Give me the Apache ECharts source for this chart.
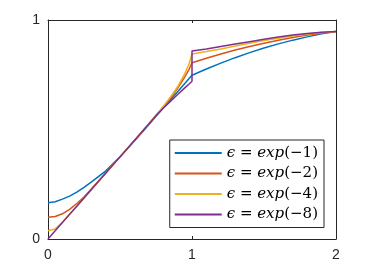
<!DOCTYPE html>
<html>
<head>
<meta charset="utf-8">
<script src="https://cdn.jsdelivr.net/npm/echarts@6/dist/echarts.min.js"></script>
<style>
  html, body { margin: 0; padding: 0; background: #fff; }
  #main { width: 372px; height: 270px; }
</style>
</head>
<body>
<div id="main"></div>
<script>
// x grid shared by every curve (x = 1 appears twice: left / right limit)
var xs = [0, 0.05, 0.1, 0.15, 0.2, 0.25, 0.3, 0.4, 0.5, 0.6, 0.7, 0.75, 0.8, 0.85, 0.9, 0.95, 0.98, 1,
          1, 1.1, 1.2, 1.3, 1.4, 1.5, 1.6, 1.7, 1.8, 1.9, 2];

var names = ['ϵ = exp(−1)', 'ϵ = exp(−2)', 'ϵ = exp(−4)', 'ϵ = exp(−8)'];
var colors = ['#0072BD', '#D95319', '#EDB120', '#7E2F8E'];

var yEps1 = [0.166, 0.170, 0.182, 0.196, 0.214, 0.236, 0.26, 0.31, 0.375, 0.448, 0.522, 0.56, 0.598, 0.635, 0.672, 0.71, 0.733, 0.748,
             0.748, 0.776, 0.803, 0.828, 0.851, 0.872, 0.891, 0.908, 0.923, 0.937, 0.947];
var yEps2 = [0.099, 0.103, 0.115, 0.135, 0.162, 0.192, 0.228, 0.30, 0.375, 0.45, 0.525, 0.565, 0.603, 0.643, 0.688, 0.74, 0.775, 0.805,
             0.805, 0.825, 0.845, 0.863, 0.879, 0.894, 0.908, 0.92, 0.931, 0.94, 0.947];
var yEps4 = [0.038, 0.046, 0.076, 0.1125, 0.15, 0.1875, 0.225, 0.30, 0.375, 0.45, 0.525, 0.565, 0.605, 0.648, 0.695, 0.755, 0.80, 0.845,
             0.845, 0.856, 0.868, 0.881, 0.894, 0.906, 0.917, 0.927, 0.936, 0.943, 0.947];
var yEps8 = [0, 0.0375, 0.075, 0.1125, 0.15, 0.1875, 0.225, 0.30, 0.375, 0.45, 0.525, 0.5625, 0.597, 0.628, 0.66, 0.69, 0.708, 0.72,
             0.858, 0.868, 0.879, 0.89, 0.901, 0.912, 0.922, 0.931, 0.938, 0.944, 0.947];

var xTicks = [0, 1, 2];
var yTicks = [0, 1];

var allY = [yEps1, yEps2, yEps4, yEps8];

function pairs(ys) {
  return xs.map(function (x, i) { return [x, ys[i]]; });
}

var axisCol = '#262626';
var tickFont = { color: axisCol, fontSize: 14, fontFamily: 'Liberation Sans, Arial, sans-serif' };

function xAxisCfg(pos, showLabel) {
  return {
    type: 'value', position: pos, min: xTicks[0], max: xTicks[xTicks.length - 1], interval: 1,
    axisLine: { show: true, onZero: false, lineStyle: { color: axisCol, width: 1 } },
    axisTick: { show: true, inside: true, length: 3, lineStyle: { color: axisCol } },
    axisLabel: Object.assign({ show: showLabel, margin: 9 }, tickFont),
    splitLine: { show: false }
  };
}
function yAxisCfg(pos, showLabel) {
  return {
    type: 'value', position: pos, min: yTicks[0], max: yTicks[yTicks.length - 1], interval: 1,
    axisLine: { show: true, onZero: false, lineStyle: { color: axisCol, width: 1 } },
    axisTick: { show: true, inside: true, length: 3, lineStyle: { color: axisCol } },
    axisLabel: Object.assign({ show: showLabel, margin: 8 }, tickFont),
    splitLine: { show: false }
  };
}

var option = {
  backgroundColor: '#fff',
  animation: false,
  grid: { left: 48, right: 36, top: 20, bottom: 31, containLabel: false },
  xAxis: [xAxisCfg('bottom', true), xAxisCfg('top', false)],
  yAxis: [yAxisCfg('left', true), yAxisCfg('right', false)],
  legend: {
    orient: 'vertical',
    right: 48, top: 140,
    backgroundColor: '#fff',
    borderColor: axisCol, borderWidth: 1, borderRadius: 0,
    padding: [5, 6, 5, 5],
    itemWidth: 47, itemHeight: 2, itemGap: 4.5,
    icon: 'rect',
    data: names,
    formatter: function (name) {
      var rest = name.replace('ϵ = exp', '');
      return '{i|ϵ}{n| = }{i|exp}{n|' + rest + '}';
    },
    textStyle: {
      lineHeight: 16,
      rich: {
        i: { fontFamily: 'DejaVu Serif, serif', fontStyle: 'italic', fontSize: 15, color: '#000', lineHeight: 16 },
        n: { fontFamily: 'DejaVu Serif, serif', fontSize: 15, color: '#000', lineHeight: 16 }
      }
    }
  },
  series: names.map(function (n, k) {
    return {
      name: n,
      type: 'line',
      xAxisIndex: 0, yAxisIndex: 0,
      data: pairs(allY[k]),
      showSymbol: false, symbol: 'none',
      smooth: false,
      lineStyle: { color: colors[k], width: 1.5 },
      itemStyle: { color: colors[k] }
    };
  })
};

var myChart = echarts.init(document.getElementById('main'), null, { renderer: 'canvas' });
myChart.setOption(option);
</script>
</body>
</html>
